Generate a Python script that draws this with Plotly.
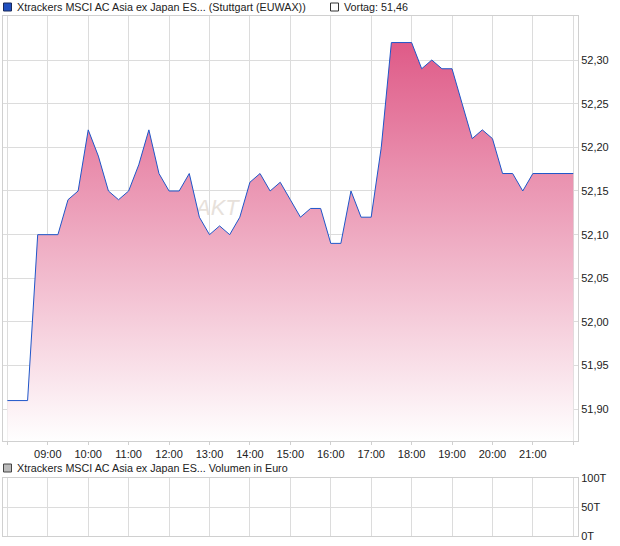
import plotly.graph_objects as go

# ---- data ----
times = [
    "08:00", "08:15", "08:30", "08:45", "09:00", "09:15", "09:30", "09:45",
    "10:00", "10:15", "10:30", "10:45", "11:00", "11:15", "11:30", "11:45",
    "12:00", "12:15", "12:30", "12:45", "13:00", "13:15", "13:30", "13:45",
    "14:00", "14:15", "14:30", "14:45", "15:00", "15:15", "15:30", "15:45",
    "16:00", "16:15", "16:30", "16:45", "17:00", "17:15", "17:30", "17:45",
    "18:00", "18:15", "18:30", "18:45", "19:00", "19:15", "19:30", "19:45",
    "20:00", "20:15", "20:30", "20:45", "21:00", "21:15", "21:30", "21:45",
    "22:00",
]
prices = [
    51.91, 51.91, 51.91, 52.10, 52.10, 52.10, 52.14, 52.15,
    52.22, 52.19, 52.15, 52.14, 52.15, 52.18, 52.22, 52.17,
    52.15, 52.15, 52.17, 52.12, 52.10, 52.11, 52.10, 52.12,
    52.16, 52.17, 52.15, 52.16, 52.14, 52.12, 52.13, 52.13,
    52.09, 52.09, 52.15, 52.12, 52.12, 52.20, 52.32, 52.32,
    52.32, 52.29, 52.30, 52.29, 52.29, 52.25, 52.21, 52.22,
    52.21, 52.17, 52.17, 52.15, 52.17, 52.17, 52.17, 52.17,
    52.17,
]
volume_times = []
volume_values = []

hour_ticks = ["08:00", "09:00", "10:00", "11:00", "12:00", "13:00", "14:00", "15:00",
              "16:00", "17:00", "18:00", "19:00", "20:00", "21:00", "22:00"]
hour_labels = [""] + hour_ticks[1:-1] + [""]
price_ticks = [51.90, 51.95, 52.00, 52.05, 52.10, 52.15, 52.20, 52.25, 52.30]
price_labels = ["51,90", "51,95", "52,00", "52,05", "52,10", "52,15", "52,20", "52,25", "52,30"]
vol_ticks = [0, 50, 100]
vol_labels = ["0T", "50T", "100T"]

legend_main = "Xtrackers MSCI AC Asia ex Japan ES... (Stuttgart (EUWAX))"
legend_prev = "Vortag: 51,46"
legend_vol = "Xtrackers MSCI AC Asia ex Japan ES... Volumen in Euro"

DAY = "2024-05-17 "
x = [DAY + t for t in times]
xv = [DAY + t for t in volume_times]
tick_x = [DAY + t for t in hour_ticks]
x_range = [DAY + "07:53:30", DAY + "22:07:00"]

W, H = 620, 546
ML, MR, MT, MB = 3, 42, 16, 10
PW, PH = W - ML - MR, H - MT - MB


def px(xp):
    return (xp - ML) / PW


def py(yp):
    return (H - MB - yp) / PH


FONT = "Liberation Sans, Arial, sans-serif"
GRID = "#dcdcdc"
LINE = "#d0d0d0"

fig = go.Figure()
fig.add_trace(go.Scatter(
    x=x, y=prices, mode="lines",
    line=dict(color="#1f56c9", width=1),
    fill="tozeroy",
    fillgradient=dict(type="vertical",
                      colorscale=[[0, "#ffffff"], [1, "#df5b88"]],
                      start=51.8637, stop=52.32),
    xaxis="x", yaxis="y", hoverinfo="skip",
))
fig.add_trace(go.Bar(x=xv, y=volume_values, xaxis="x2", yaxis="y2",
                     marker_color="#888888"))

axis_common = dict(
    type="date", range=x_range, tickmode="array", tickvals=tick_x,
    showgrid=True, gridcolor=GRID, gridwidth=1,
    showline=True, linecolor=LINE, linewidth=1, mirror=True,
    ticks="outside", ticklen=3, tickcolor=LINE, zeroline=False,
    tickfont=dict(family=FONT, size=11, color="#222222"),
)

fig.update_layout(
    width=W, height=H,
    margin=dict(l=ML, r=MR, t=MT, b=MB, autoexpand=False),
    paper_bgcolor="white", plot_bgcolor="white",
    showlegend=False,
    xaxis=dict(axis_common, ticktext=hour_labels, anchor="y", domain=[0, 1]),
    yaxis=dict(
        domain=[py(441), 1], range=[51.8637, 52.3504], side="right",
        tickmode="array", tickvals=price_ticks, ticktext=price_labels,
        showgrid=True, gridcolor=GRID, showline=True, linecolor=LINE, mirror=True,
        ticks="", zeroline=False,
        tickfont=dict(family=FONT, size=11, color="#222222"), anchor="x",
    ),
    xaxis2=dict(axis_common, ticktext=[""] * len(tick_x), showticklabels=False,
                ticks="", anchor="y2", domain=[0, 1]),
    yaxis2=dict(
        domain=[0, py(478)], range=[0, 100], side="right",
        tickmode="array", tickvals=vol_ticks, ticktext=vol_labels,
        showgrid=True, gridcolor=GRID, showline=True, linecolor=LINE, mirror=True,
        ticks="", zeroline=False,
        tickfont=dict(family=FONT, size=11, color="#222222"), anchor="x2",
    ),
)

# watermark (behind the area fill)
fig.add_shape(type="rect", xref="paper", yref="paper",
              x0=px(190), x1=px(260), y0=py(215), y1=py(195),
              line=dict(width=0), fillcolor="rgba(0,0,0,0)", layer="below",
              label=dict(text="AKT", textposition="middle left",
                         font=dict(family=FONT, size=22, color="#e7e1db", style="italic")))

# legend squares
fig.add_shape(type="rect", xref="paper", yref="paper",
              x0=px(3.5), x1=px(11.5), y0=py(11), y1=py(3),
              fillcolor="#1f4fbf", line=dict(color="#1a2a5a", width=1))
fig.add_shape(type="rect", xref="paper", yref="paper",
              x0=px(330.5), x1=px(338.5), y0=py(11), y1=py(3),
              fillcolor="white", line=dict(color="#333333", width=1))
fig.add_shape(type="rect", xref="paper", yref="paper",
              x0=px(3.5), x1=px(11.5), y0=py(472), y1=py(464),
              fillcolor="#bbbbbb", line=dict(color="#444444", width=1))

for text, xp, yp in [(legend_main, 15, 7), (legend_prev, 342, 7), (legend_vol, 15, 468)]:
    fig.add_annotation(text=text, xref="paper", yref="paper", x=px(xp), y=py(yp),
                       xanchor="left", yanchor="middle", showarrow=False,
                       font=dict(family=FONT, size=10.75, color="#222222"))

fig.write_html(
    "out.html",
    config={"displayModeBar": False},
    post_script="document.body.style.margin='0';document.body.style.padding='0';",
)
